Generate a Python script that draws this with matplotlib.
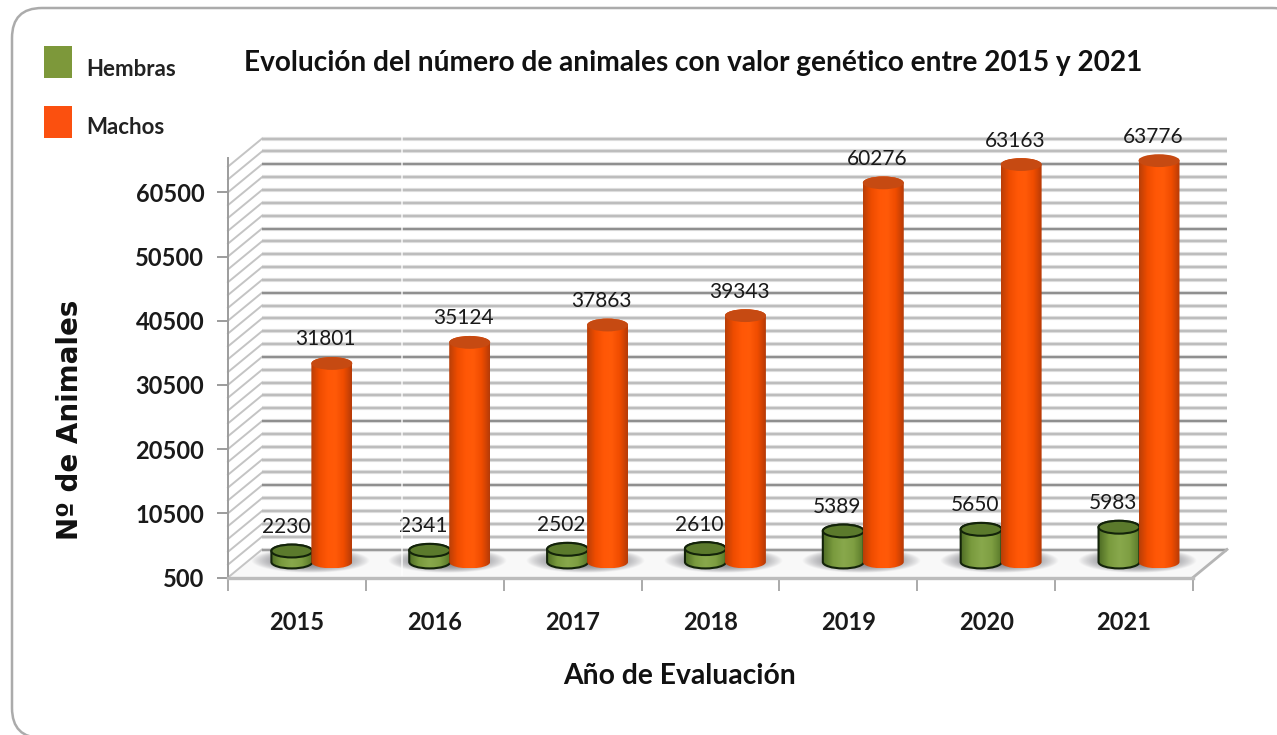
import numpy as np
import matplotlib
matplotlib.use("Agg")
import matplotlib.pyplot as plt
from matplotlib.colors import LinearSegmentedColormap
from matplotlib.patches import Ellipse, FancyBboxPatch, PathPatch, Polygon, Rectangle
from matplotlib.path import Path
from matplotlib.transforms import Affine2D, IdentityTransform

years = ["2015", "2016", "2017", "2018", "2019", "2020", "2021"]
hembras = [2230, 2341, 2502, 2610, 5389, 5650, 5983]
machos = [31801, 35124, 37863, 39343, 60276, 63163, 63776]
y_ticks = [500, 10500, 20500, 30500, 40500, 50500, 60500]
grid_values = list(range(500, 66000, 2000))
series_names = ["Hembras", "Machos"]
title_text = "Evolución del número de animales con valor genético entre 2015 y 2021"
xlabel_text = "Año de Evaluación"
ylabel_text = "Nº de Animales"

W, H = 1277, 735
plt.rcParams["font.family"] = ["Lato", "DejaVu Sans"]
fig = plt.figure(figsize=(W / 100, H / 100), dpi=100, facecolor="white")
PIX = IdentityTransform()

# pixel helpers
fx = lambda px: px / W
fy = lambda py: 1 - py / H

# rounded frame (display coordinates, y upwards); it runs off the right and bottom edges
frame = FancyBboxPatch((12, -3), 1290, 730, boxstyle="round,pad=0,rounding_size=30",
                       transform=PIX, fc="white", ec="#ababab", lw=1.8, zorder=0)
fig.add_artist(frame)

Y_BASE, Y_TOP_VAL = 500, 65900
PX_PER_UNIT = 0.00642
L, R, B = 228, 1193, 577.5
ax = fig.add_axes([fx(L), fy(B), (R - L) / W, (Y_TOP_VAL - Y_BASE) * PX_PER_UNIT / H])
ax.patch.set_alpha(0)
xlim = (0, len(years))
ylim = (Y_BASE, Y_TOP_VAL)
ax.set_xlim(xlim)
ax.set_ylim(ylim)

back = ax.transData + Affine2D().translate(34, 28)
base_px = ax.transData.transform((0, Y_BASE))[1]
mid = ax.transData + Affine2D().translate(0, -base_px).scale(1, 0.988).translate(17, base_px + 15.5)

# floor
p0, p1 = ax.transData.transform([(0, Y_BASE), (7, Y_BASE)])
floor = Polygon([p0, p1, p1 + [34, 28], p0 + [34, 28]], closed=True, transform=PIX,
                fc="#f8f8f8", ec="none", zorder=1, clip_on=False)
ax.add_patch(floor)
floor.set_transform(PIX)

# walls
TOP_GRID = 64500
for v in grid_values:
    if v > TOP_GRID:
        continue
    major = (v - 500) % 10000 == 0
    col = "#8f8f8f" if major else "#bdbdbd"
    if v == Y_BASE:
        col = "#9a9a9a"
    ax.plot([0, 7], [v, v], transform=back, color="#e2e2e2", lw=3.0, zorder=1.1,
            clip_on=False, solid_capstyle="butt")
    ax.plot([0, 7], [v, v], transform=back, color=col, lw=1.6, zorder=1.2,
            clip_on=False, solid_capstyle="butt")
    a = ax.transData.transform((0, v))
    ax.plot([a[0], a[0] + 34], [a[1], a[1] + 28], transform=PIX, color="#c4c4c4",
            lw=1.4, zorder=1.1, clip_on=False)

# right floor edge
ax.plot([p1[0], p1[0] + 34], [p1[1], p1[1] + 28], transform=PIX, color="#b5b5b5",
        lw=2, zorder=1.3, clip_on=False)
# faint seam in the source image
fig.add_artist(plt.Line2D([fx(402)] * 2, [fy(135), fy(575)], color="white", lw=1.2, alpha=.8, zorder=3))

cm_orange = LinearSegmentedColormap.from_list(
    "o", ["#b83e08", "#ee4c00", "#ff5706", "#ff5a08", "#f04c00", "#b53b08"])
cm_green = LinearSegmentedColormap.from_list(
    "g", ["#4f6d25", "#7a9b3e", "#88a84c", "#7f9f42", "#587829"])
gradient = np.linspace(0, 1, 128)[None, :]

RX = 20.5 / 138
RY = 6.5 / PX_PER_UNIT
KAPPA = 0.5523


def cylinder_path(xc, top):
    """Body outline: straight sides with elliptical lower and upper edges."""
    k = KAPPA
    verts = [(xc - RX, top), (xc - RX, Y_BASE),
             (xc - RX, Y_BASE - k * RY), (xc - k * RX, Y_BASE - RY), (xc, Y_BASE - RY),
             (xc + k * RX, Y_BASE - RY), (xc + RX, Y_BASE - k * RY), (xc + RX, Y_BASE),
             (xc + RX, top),
             (xc + RX, top + k * RY), (xc + k * RX, top + RY), (xc, top + RY),
             (xc - k * RX, top + RY), (xc - RX, top + k * RY), (xc - RX, top),
             (xc - RX, top)]
    codes = [Path.MOVETO, Path.LINETO, Path.CURVE4, Path.CURVE4, Path.CURVE4, Path.CURVE4,
             Path.CURVE4, Path.CURVE4, Path.LINETO, Path.CURVE4, Path.CURVE4, Path.CURVE4,
             Path.CURVE4, Path.CURVE4, Path.CURVE4, Path.CLOSEPOLY]
    return Path(verts, codes)


def cylinder(xc, val, cmap, top_color, edge, lw, z):
    path = cylinder_path(xc, val)
    im = ax.imshow(gradient, extent=[xc - RX, xc + RX, Y_BASE - RY, val + RY], aspect="auto",
                   cmap=cmap, interpolation="bilinear", zorder=z)
    im.set_transform(mid)
    clip = PathPatch(path, transform=mid, fc="none", ec="none")
    im.set_clip_path(clip)
    if lw:
        ax.add_patch(PathPatch(path, transform=mid, fc="none", ec=edge, lw=lw, zorder=z + .01, clip_on=False))
    ax.add_patch(Ellipse((xc, val), 2 * RX, 2 * RY, transform=mid, fc=top_color,
                         ec=edge if lw else "none", lw=lw, zorder=z + .02, clip_on=False))


# soft floor shadows
gx, gy = np.meshgrid(np.linspace(-1, 1, 160), np.linspace(-1, 1, 60))
alpha = np.clip(1 - (gx ** 2 + gy ** 2), 0, 1) ** 0.9 * 0.85
shadow = np.dstack([np.full_like(gx, .40), np.full_like(gx, .40), np.full_like(gx, .43), alpha])

for i in range(len(years)):
    ci = i + 0.5
    xh, xm = ci - 0.16, ci + 0.13
    sx = ci - 0.02
    sh = ax.imshow(shadow, extent=[sx - .44, sx + .42, Y_BASE - 1700, Y_BASE + 2100], aspect="auto",
                   zorder=2, interpolation="bilinear")
    sh.set_transform(mid)
    sh.set_clip_on(False)
    cylinder(xh, hembras[i], cm_green, "#5b7a2c", "#13230a", 1.5, 3)
    cylinder(xm, machos[i], cm_orange, "#c64a12", "none", 0, 4)
    for xc, v in ((xh, hembras[i]), (xm, machos[i])):
        ax.annotate(str(v), xy=(xc, v), xycoords=mid, xytext=(-6 * 0.72, 24 * 0.72),
                    textcoords="offset points", ha="center", va="center",
                    fontsize=15, color="#1a1a1a", zorder=6, annotation_clip=False)

ax.set_xlim(xlim)
ax.set_ylim(ylim)

# axes
for s in ("top", "right"):
    ax.spines[s].set_visible(False)
ax.spines["left"].set_color("#9c9c9c")
ax.spines["left"].set_linewidth(1.4)
ax.spines["bottom"].set_color("#bcbcbc")
ax.spines["bottom"].set_linewidth(2.4)
ax.spines["left"].set_zorder(5)
ax.spines["bottom"].set_zorder(5)

ax.set_yticks(y_ticks)
ax.set_yticklabels([str(v) for v in y_ticks], fontsize=17, fontweight="bold", color="#1a1a1a")
ax.tick_params(axis="y", length=8, width=1.4, color="#9c9c9c", pad=9)
ax.set_xticks(range(len(years) + 1))
ax.set_xticklabels([])
ax.tick_params(axis="x", which="major", length=9, width=1.2, color="#9c9c9c")
ax.set_xticks([i + 0.5 for i in range(len(years))], minor=True)
ax.set_xticklabels(years, minor=True, fontsize=17, fontweight="bold", color="#1a1a1a")
ax.tick_params(axis="x", which="minor", length=0, pad=24)

fig.text(fx(693), fy(63), title_text, ha="center", va="center", fontsize=20.2,
         fontweight="bold", color="#111111")
fig.text(fx(680), fy(676), xlabel_text, ha="center", va="center", fontsize=20.3,
         fontweight="bold", color="#111111")
fig.text(fx(70.5), fy(420), ylabel_text, ha="center", va="center", rotation=90, fontsize=20,
         fontweight="bold", family="DejaVu Sans", color="#111111")

# legend
for name, col, y0, ty in zip(series_names, ["#7d983a", "#fb500f"], [46, 106], [69, 128]):
    fig.add_artist(Rectangle((fx(44), fy(y0 + 32)), 28 / W, 32 / H, transform=fig.transFigure,
                             fc=col, ec="none"))
    fig.text(fx(86), fy(ty), name, ha="left", va="center", fontsize=16, fontweight="bold",
             color="#222222")

fig.savefig("out.png", dpi=100, facecolor="white")
